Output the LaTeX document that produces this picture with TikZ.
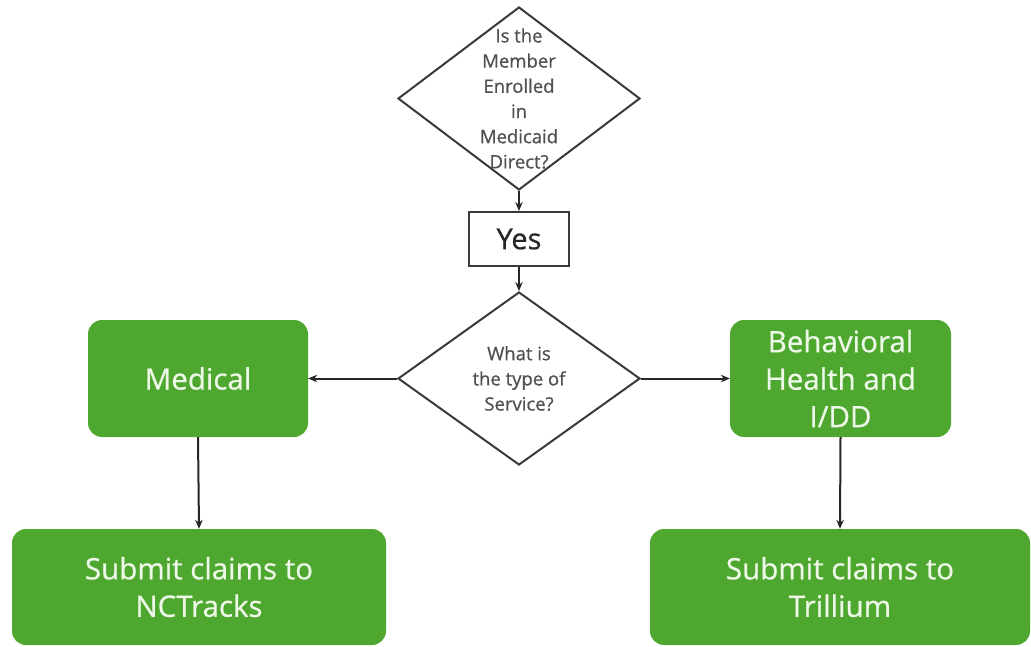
\documentclass[tikz,border=0pt]{standalone}
\usepackage{fontspec}
\setmainfont{Open Sans}
\newfontfamily\plain{Open Sans}[FakeBold=0.7]
\usetikzlibrary{shapes.geometric,arrows.meta}
\definecolor{boxgreen}{HTML}{4EA72E}
\definecolor{boxtext}{HTML}{EEF8E8}
\definecolor{dline}{HTML}{3A3A3A}
\definecolor{dtext}{HTML}{505050}
\begin{document}
\begin{tikzpicture}[x=1pt,y=-1pt,
  decision/.style={diamond, draw=dline, line width=2pt, fill=white, inner sep=0pt,
    minimum width=242pt},
  dlabel/.style={text=dtext, font=\plain\fontsize{18.5}{25.2}\selectfont, align=center},
  greenbox/.style={rectangle, rounded corners=14pt, fill=boxgreen, text=boxtext,
    align=center, font=\plain\fontsize{29.5}{37.5}\selectfont, inner sep=0pt},
  yesbox/.style={rectangle, draw=dline, line width=2pt, minimum width=100pt,
    minimum height=54pt, font=\plain\fontsize{29}{30}\selectfont, text=black!85},
  arr/.style={-{Stealth[length=9pt,width=7.5pt]}, line width=2pt, draw=black!85}
]
\useasboundingbox (0,0) rectangle (1031,647);
\node[decision, minimum height=183pt,
  label={[dlabel]center:Is the\\Member\\Enrolled\\in\\Medicaid\\Direct?}] (q1) at (519,98.5) {};
\node[yesbox] (yes) at (519,239) {Yes};
\node[decision, minimum height=173pt,
  label={[dlabel]center:What is\\the type of\\Service?}] (q2) at (519,378.5) {};
\node[greenbox, minimum width=220pt, minimum height=117pt] (med) at (198,378.5) {Medical};
\node[greenbox, minimum width=221pt, minimum height=117pt] (bh) at (840.5,378.5) {Behavioral\\Health and\\I/DD};
\node[greenbox, minimum width=374pt, minimum height=116pt] (nct) at (199,587) {Submit claims to\\NCTracks};
\node[greenbox, minimum width=380pt, minimum height=116pt] (tri) at (840,587) {Submit claims to\\Trillium};
\draw[arr] (q1.south) -- (yes.north);
\draw[arr] (yes.south) -- (q2.north);
\draw[arr] (q2.west) -- (med.east);
\draw[arr] (q2.east) -- (bh.west);
\draw[arr] (med.south) -- (nct.north);
\draw[arr] (bh.south) -- (tri.north);
\end{tikzpicture}
\end{document}
